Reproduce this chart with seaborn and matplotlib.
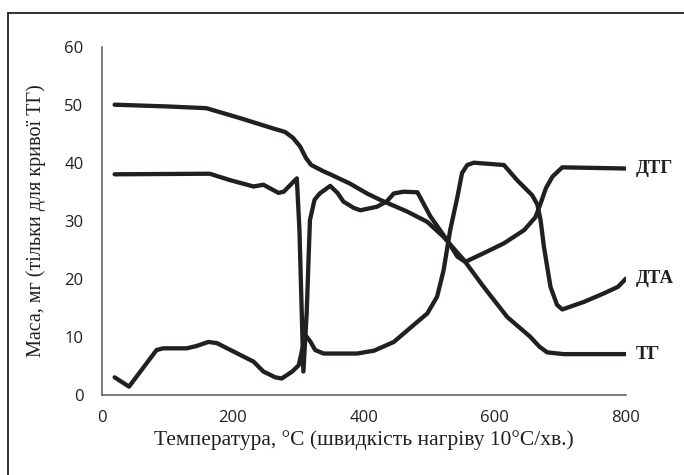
import numpy as np
import pandas as pd
import matplotlib
matplotlib.use("Agg")
import matplotlib.pyplot as plt
from matplotlib.lines import Line2D
import seaborn as sns

# TG curve (mass, mg)
tg_t = [20, 100, 160, 211, 262, 280, 292, 303, 312, 320, 339, 349, 379, 405, 425,
        466, 497, 522, 553, 583, 619, 654, 668, 680, 705, 800]
tg_m = [50.0, 49.7, 49.4, 47.7, 45.9, 45.3, 44.3, 42.8, 40.8, 39.6, 38.5, 38.0, 36.4,
        34.7, 33.6, 31.6, 29.8, 27.2, 23.2, 18.6, 13.4, 10.0, 8.3, 7.3, 7.0, 7.0]

# DTG curve
dtg_t = [20, 165, 196, 232, 247, 270, 278, 298, 302, 308, 313, 318, 325, 333, 349,
         360, 369, 385, 395, 420, 435, 446, 461, 482, 502, 527, 543, 555, 583, 614,
         645, 662, 670, 678, 688, 703, 800]
dtg_v = [38.0, 38.1, 37.0, 35.9, 36.2, 34.8, 35.0, 37.3, 28.4, 4.0, 14.0, 30.1, 33.6,
         34.7, 36.0, 34.8, 33.3, 32.2, 31.8, 32.4, 33.3, 34.7, 35.0, 34.9, 30.7, 26.7,
         23.8, 22.9, 24.4, 26.1, 28.4, 30.6, 33.0, 35.6, 37.6, 39.2, 39.0]

# DTA curve
dta_t = [20, 42, 84, 94, 130, 145, 163, 176, 232, 247, 265, 275, 291, 301, 311, 319,
         326, 339, 390, 416, 446, 476, 497, 512, 522, 532, 543, 550, 558, 568, 614,
         634, 657, 665, 670, 675, 685, 695, 703, 736, 767, 788, 800]
dta_v = [3.0, 1.4, 7.7, 8.0, 8.0, 8.4, 9.1, 8.9, 5.7, 4.0, 3.0, 2.8, 4.0, 5.1, 10.3,
         9.1, 7.7, 7.1, 7.1, 7.6, 9.1, 12.0, 14.0, 16.9, 21.5, 28.4, 34.1, 38.2, 39.6,
         40.0, 39.6, 37.0, 34.4, 32.8, 30.0, 25.5, 18.6, 15.5, 14.7, 16.0, 17.5, 18.6,
         20.0]

curve_names = ["ДТГ", "ДТА", "ТГ"]
curve_ends = [39, 20, 7]

sns.set_style("white")
plt.rcParams['font.family'] = ['Liberation Serif', 'DejaVu Serif']

ink = "#231f20"
fig = plt.figure(figsize=(6.84, 4.75), dpi=100)
ax = fig.add_axes([0.1484, 0.169, 0.7666, 0.7327])

for t, v in [(tg_t, tg_m), (dtg_t, dtg_v), (dta_t, dta_v)]:
    d = pd.DataFrame({"t": t, "v": v})
    sns.lineplot(data=d, x="t", y="v", ax=ax, color=ink, lw=3.1,
                 solid_joinstyle="round", solid_capstyle="round", sort=False)

ax.set_xlim(0, 800)
ax.set_ylim(0, 60)
ax.set_xticks(range(0, 801, 200))
ax.set_yticks(range(0, 61, 10))

tick_font = ['Liberation Sans Narrow', 'Open Sans', 'DejaVu Sans']
for lab in ax.get_xticklabels() + ax.get_yticklabels():
    lab.set_family(tick_font)
    lab.set_fontsize(12)
    lab.set_color("#231f20")

ax.tick_params(axis="both", direction="out", length=4, width=1, color="#595959")
ax.tick_params(axis="y", pad=9)
ax.tick_params(axis="x", pad=7)
for s in ["top", "right"]:
    ax.spines[s].set_visible(False)
for s in ["left", "bottom"]:
    ax.spines[s].set_color("#595959")
    ax.spines[s].set_linewidth(1.1)

ax.set_xlabel("Температура, °C (швидкість нагріву 10°C/хв.)", fontsize=15.5, color=ink,
              labelpad=3)
ax.set_ylabel("Маса, мг (тільки для кривої ТГ)", fontsize=14.5, color=ink, labelpad=13)

for name, yv in zip(curve_names, curve_ends):
    ax.text(815, yv, name, fontsize=13.5, fontweight="bold", color=ink,
            va="center", ha="left", clip_on=False)

# frame lines (left and top only visible in the picture)
fig.add_artist(Line2D([8 / 684, 8 / 684], [0, 1 - 12.5 / 475], color=ink, lw=1.3,
                      transform=fig.transFigure))
fig.add_artist(Line2D([8 / 684, 1], [1 - 12.5 / 475, 1 - 12.5 / 475], color=ink, lw=1.3,
                      transform=fig.transFigure))

fig.savefig("out.png", dpi=100)
